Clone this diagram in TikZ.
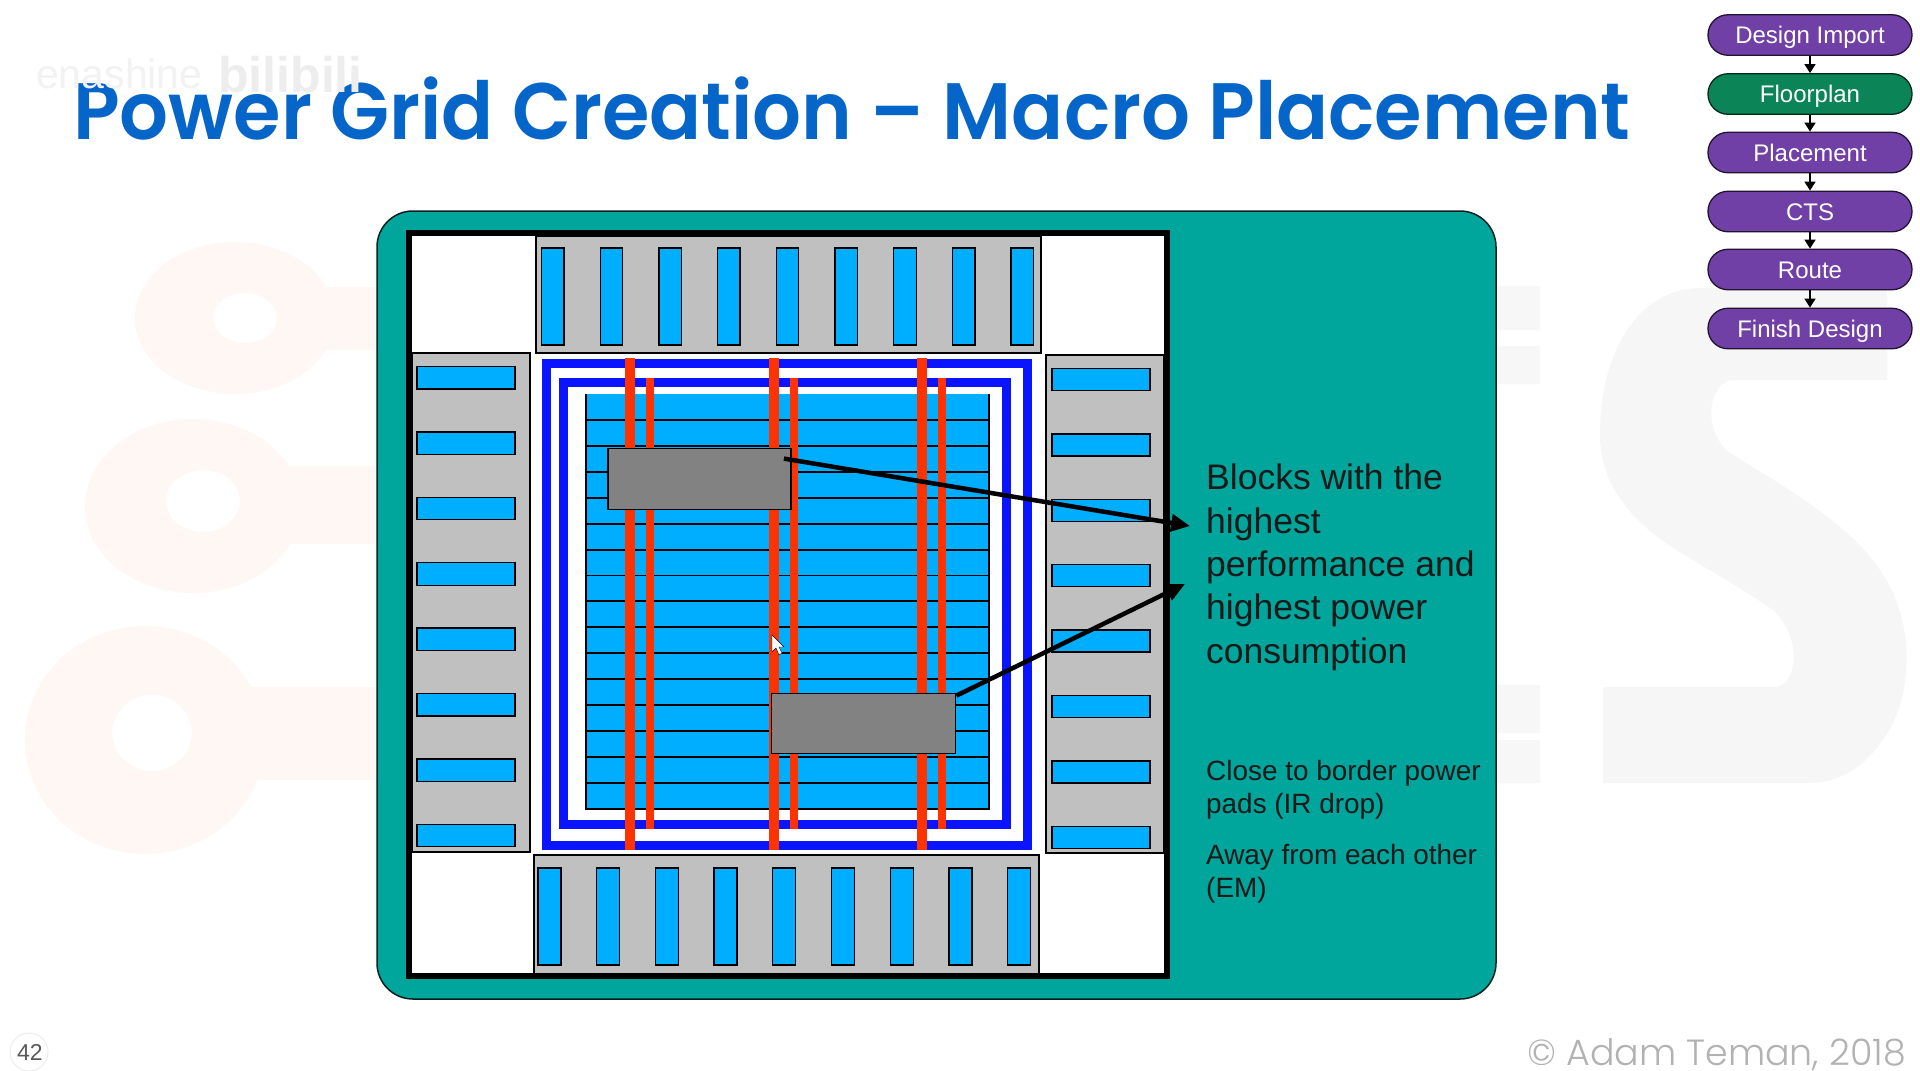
\documentclass[tikz,border=0pt]{standalone}
\usepackage{fontspec}
\setmainfont{Liberation Sans}
\newfontfamily\titlefont[FakeStretch=0.96]{Poppins SemiBold}
\newfontfamily\lightfont{Poppins Light}
\usetikzlibrary{arrows.meta,calc}
\definecolor{panelteal}{HTML}{00A59B}
\definecolor{padblue}{HTML}{00AEFF}
\definecolor{padgray}{HTML}{C0C0C0}
\definecolor{ringblue}{HTML}{0A14FF}
\definecolor{railred}{HTML}{FF3300}
\definecolor{blockgray}{HTML}{828282}
\definecolor{titleblue}{HTML}{0565C8}
\definecolor{flowpurple}{HTML}{7140A6}
\definecolor{flowgreen}{HTML}{0B8458}
\definecolor{bgorange}{HTML}{FEF7F3}
\definecolor{bggray}{HTML}{F6F6F6}
\tikzset{
  padrect/.style={fill=padblue,draw=black,line width=1.3pt},
  bandrect/.style={fill=padgray,draw=black,line width=1.2pt},
  pill/.style={draw=black!70!flowpurple,line width=1.3pt,rounded corners=20pt,minimum width=204pt,minimum height=40.5pt,inner sep=0pt,text=white,text height=17pt,text depth=0pt,font=\fontsize{24}{26}\selectfont},
  blockbox/.style={fill=blockgray,draw=black,line width=1.8pt,inner sep=0pt},
  flowarrow/.style={draw=black,line width=1.6pt,-{Triangle[length=9pt,width=11pt]}},
  bigarrow/.style={draw=black,line width=4.5pt,-{Triangle[length=19pt,width=17pt]}},
}
\begin{document}
\begin{tikzpicture}[x=1pt,y=-1pt]
\useasboundingbox (0,0) rectangle (1920,1071);
\fill[white] (0,0) rectangle (1920,1071);
% faint background shapes
\fill[bgorange,even odd rule] (235,318) ellipse [x radius=100,y radius=76] (245,318) ellipse [x radius=32,y radius=25];
\fill[bgorange] (320,287) rectangle (378,350);
\fill[bgorange,even odd rule] (193,506) ellipse [x radius=108,y radius=87] (203,501) ellipse [x radius=37,y radius=31];
\fill[bgorange] (285,466) rectangle (378,544);
\fill[bgorange,even odd rule] (145,740) ellipse [x radius=120,y radius=114] (152,733) ellipse [x radius=40,y radius=38];
\fill[bgorange] (250,687) rectangle (378,780);
\fill[bggray] (1887,288) -- (1887,380) -- (1730,380) .. controls (1705,388) and (1705,435) .. (1730,453)
  .. controls (1790,490) and (1850,525) .. (1880,570) .. controls (1915,620) and (1915,695) .. (1883,740)
  .. controls (1860,772) and (1835,783) .. (1807,783) -- (1603,783) -- (1603,687) -- (1777,687)
  .. controls (1800,680) and (1800,635) .. (1773,610) .. controls (1730,580) and (1690,560) .. (1663,541)
  .. controls (1620,510) and (1600,475) .. (1600,434) .. controls (1600,350) and (1640,288) .. (1700,288) -- cycle;
\fill[black!3] (1497,286) rectangle (1540,330) (1497,346) rectangle (1540,384) (1497,685) rectangle (1540,733) (1497,740) rectangle (1540,783);
% title
\node[anchor=base west,inner sep=0pt,text=titleblue,font=\titlefont\fontsize{80}{90}\selectfont] (title) at (73,139) {Power Grid Creation – Macro Placement};
% watermark
\node[anchor=base west,inner sep=0pt,text=black!5,font=\fontsize{41}{44}\selectfont] (wmark) at (36,88) {enashine};
\node[anchor=base west,inner sep=0pt,text=black!7,font=\bfseries\fontsize{50}{54}\selectfont] (wlogo) at (218,92) {bilibili};
% panel
\draw[fill=panelteal,draw=black!80!panelteal,line width=1.5pt,rounded corners=36pt] (377,211) rectangle (1496,999);
% die frame
\draw[fill=white,draw=black,line width=5.5pt] (409,233) rectangle (1167,976);
% pad bands
\draw[bandrect] (536,236) rectangle (1041,353);
\foreach \i in {0,...,8} \draw[padrect] ({541.5+58.7*\i},248) rectangle ({564+58.7*\i},345);
\draw[bandrect] (534,855) rectangle (1039,974);
\foreach \i in {0,...,8} \draw[padrect] ({538+58.7*\i},868) rectangle ({561+58.7*\i},965);
\draw[bandrect] (412,353) rectangle (530,852);
\foreach \i in {0,...,7} \draw[padrect] (417,{366.5+65.4*\i}) rectangle (515,{389+65.4*\i});
\draw[bandrect] (1046,355) rectangle (1164,853);
\foreach \i in {0,...,7} \draw[padrect] (1052,{368.5+65.4*\i}) rectangle (1150,{390.5+65.4*\i});
% rings
\draw[ringblue,line width=9pt] (546.5,363.5) rectangle (1027.5,845.5);
\draw[ringblue,line width=9pt] (563.5,382.5) rectangle (1006.5,824.5);
% core
\fill[padblue] (586,394) rectangle (989,809);
\foreach \i in {1,...,15} \draw[black,line width=1.9pt] (586,{394+25.93*\i}) -- (989,{394+25.93*\i});
\draw[black,line width=1.4pt] (586,394) -- (586,809) -- (989,809) -- (989,394);
% rails
\foreach \x in {630,774,922} \fill[railred] ({\x-4.7},358) rectangle ({\x+4.7},850);
\foreach \x in {650,794,942} \fill[railred] ({\x-4.3},378) rectangle ({\x+4.3},829);
% blocks
\node[blockbox,minimum width=183pt,minimum height=61pt] (blockA) at (699.5,479) {};
\node[blockbox,minimum width=184pt,minimum height=60pt] (blockB) at (863.5,723.5) {};
% arrows
\coordinate (tipA) at (1190,526);
\coordinate (tipB) at (1185,584);
\draw[bigarrow] ($(blockA.north east)+(-8,11)$) -- (tipA);
\draw[bigarrow] ($(blockB.north east)+(0,3)$) -- (tipB);
% cursor
\draw[fill=white,draw=black,line width=0.4pt] (772,635) -- (772,652) -- (776,648) -- (779,655) -- (782,653) -- (779,647) -- (784,647) -- cycle;
% texts
\node[anchor=north west,inner sep=0pt,align=left,text=black!90,font=\fontsize{35.5}{43.3}\selectfont] (mainnote) at (1206,464) {Blocks with the\\highest\\performance and\\highest power\\consumption};
\node[anchor=north west,inner sep=0pt,align=left,text=black!90,font=\fontsize{27.9}{33}\selectfont] (noteA) at (1206,760) {Close to border power\\pads (IR drop)};
\node[anchor=north west,inner sep=0pt,align=left,text=black!90,font=\fontsize{27.9}{33}\selectfont] (noteB) at (1206,844) {Away from each other\\(EM)};
% flow
\node[pill,fill=flowpurple] (f1) at (1810,35) {Design Import};
\node[pill,fill=flowgreen,draw=black!70!flowgreen] (f2) at (1810,94) {Floorplan};
\node[pill,fill=flowpurple] (f3) at (1810,152.5) {Placement};
\node[pill,fill=flowpurple] (f4) at (1810,211.5) {CTS};
\node[pill,fill=flowpurple] (f5) at (1810,269.5) {Route};
\node[pill,fill=flowpurple] (f6) at (1810,328.5) {Finish Design};
\foreach \a/\b in {f1/f2,f2/f3,f3/f4,f4/f5,f5/f6} \draw[flowarrow] (\a) -- (\b);
% footer
\node[anchor=center,inner sep=0pt,text=black!65,font=\fontsize{23}{26}\selectfont] (pagenum) at (30,1052) {42};
\draw[black!7,line width=1pt] (29,1052) circle (19);
\node[anchor=base east,inner sep=0pt,text=black!30,text depth=0pt,font=\lightfont\fontsize{36.4}{40}\selectfont] (copy) at (1906,1065) {© Adam Teman, 2018};
\end{tikzpicture}
\end{document}
